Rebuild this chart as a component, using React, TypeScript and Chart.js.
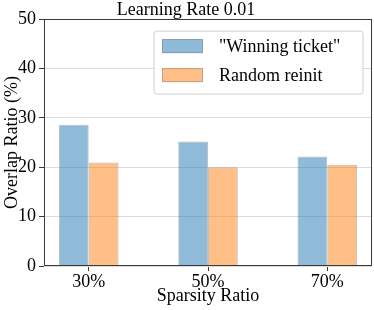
import React, { useEffect, useRef } from "react";
import { Chart, registerables } from "chart.js";

Chart.register(...registerables);

const categories = ["30%", "50%", "70%"];
const winningTicket = [28.6, 25.2, 22.2];
const randomReinit = [20.95, 20.0, 20.5];
const seriesLabels = ['"Winning ticket"', "Random reinit"];
const yTicks = [0, 10, 20, 30, 40, 50];

const FONT = "'Liberation Serif', 'Times New Roman', serif";

const spinesPlugin = {
  id: "spines",
  afterDatasetsDraw(chart: any) {
    const { ctx, chartArea } = chart;
    ctx.save();
    ctx.strokeStyle = "#3a3a3a";
    ctx.lineWidth = 1;
    ctx.strokeRect(
      Math.round(chartArea.left) + 0.5,
      Math.round(chartArea.top) + 0.5,
      Math.round(chartArea.right - chartArea.left) - 1,
      Math.round(chartArea.bottom - chartArea.top) - 1
    );
    ctx.restore();
  },
};

const legendPlugin = {
  id: "innerLegend",
  afterDraw(chart: any) {
    const { ctx, chartArea } = chart;
    const boxW = 209;
    const boxH = 63;
    const x = chartArea.right - 9 - boxW;
    const y = chartArea.top + 12;
    ctx.save();
    ctx.beginPath();
    const r = 3;
    ctx.moveTo(x + r, y);
    ctx.lineTo(x + boxW - r, y);
    ctx.quadraticCurveTo(x + boxW, y, x + boxW, y + r);
    ctx.lineTo(x + boxW, y + boxH - r);
    ctx.quadraticCurveTo(x + boxW, y + boxH, x + boxW - r, y + boxH);
    ctx.lineTo(x + r, y + boxH);
    ctx.quadraticCurveTo(x, y + boxH, x, y + boxH - r);
    ctx.lineTo(x, y + r);
    ctx.quadraticCurveTo(x, y, x + r, y);
    ctx.closePath();
    ctx.fillStyle = "rgba(255,255,255,0.9)";
    ctx.fill();
    ctx.strokeStyle = "#d0d0d0";
    ctx.lineWidth = 1;
    ctx.stroke();
    chart.data.datasets.forEach((ds: any, i: number) => {
      const py = y + 8 + i * 29;
      ctx.fillStyle = ds.backgroundColor;
      ctx.fillRect(x + 8, py, 41, 14);
      ctx.strokeStyle = ds.borderColor;
      ctx.strokeRect(x + 8.5, py + 0.5, 40, 13);
      ctx.fillStyle = "#000";
      ctx.font = `18px ${FONT}`;
      ctx.textBaseline = "middle";
      ctx.textAlign = "left";
      ctx.fillText(ds.label, x + 65, py + 8);
    });
    ctx.restore();
  },
};

export default function App() {
  const ref = useRef<HTMLCanvasElement>(null);
  useEffect(() => {
    document.body.style.margin = "0";
    if (!ref.current) return;
    Chart.defaults.font.family = FONT;
    Chart.defaults.color = "#000";
    const chart = new Chart(ref.current, {
      type: "bar",
      data: {
        datasets: [
          {
            label: seriesLabels[0],
            data: winningTicket.map((v, i) => ({ x: i, y: v })),
            backgroundColor: "rgba(31,119,180,0.5)",
            borderColor: "rgba(120,120,120,0.45)",
            borderWidth: 1,
            categoryPercentage: 0.5,
            barPercentage: 1.0,
          },
          {
            label: seriesLabels[1],
            data: randomReinit.map((v, i) => ({ x: i, y: v })),
            backgroundColor: "rgba(255,127,14,0.5)",
            borderColor: "rgba(120,120,120,0.45)",
            borderWidth: 1,
            categoryPercentage: 0.5,
            barPercentage: 1.0,
          },
        ],
      } as any,
      options: {
        animation: false,
        responsive: false,
        layout: { padding: { left: 0, right: 2, top: 0, bottom: 0 } },
        plugins: {
          legend: { display: false },
          tooltip: { enabled: false },
          title: {
            display: true,
            text: "Learning Rate 0.01",
            font: { size: 18, family: FONT, weight: "normal", lineHeight: 0.95 },
            color: "#000",
            padding: { top: 2, bottom: 0 },
          },
        },
        scales: {
          x: {
            type: "linear",
            offset: false,
            min: -0.375,
            max: 2.375,
            afterBuildTicks: (s: any) => {
              s.ticks = categories.map((_, i) => ({ value: i }));
            },
            afterFit: (s: any) => {
              s.height = 44;
            },
            ticks: {
              callback: (v: any) => categories[v] ?? "",
              font: { size: 18, family: FONT },
              color: "#000",
              padding: 0,
              maxRotation: 0,
            },
            grid: {
              offset: false,
              drawOnChartArea: false,
              drawTicks: true,
              tickLength: 5,
              tickColor: "#3a3a3a",
            },
            border: { display: false },
            title: {
              display: true,
              text: "Sparsity Ratio",
              font: { size: 18, family: FONT },
              color: "#000",
              padding: { top: 0, bottom: 3 },
            },
          },
          y: {
            min: 0,
            max: 50,
            afterBuildTicks: (s: any) => {
              s.ticks = yTicks.map((v) => ({ value: v }));
            },
            afterFit: (s: any) => {
              s.width = 44;
            },
            ticks: {
              font: { size: 18, family: FONT },
              color: "#000",
              padding: 3,
            },
            grid: {
              color: "#dcdcdc",
              drawTicks: true,
              tickLength: 5,
              tickColor: "#3a3a3a",
            },
            border: { display: false },
            title: {
              display: true,
              text: "Overlap Ratio (%)",
              font: { size: 18, family: FONT },
              color: "#000",
              padding: { top: 1, bottom: 0 },
            },
          },
        },
      } as any,
      plugins: [spinesPlugin, legendPlugin],
    });
    return () => chart.destroy();
  }, []);
  return (
    <div style={{ width: 374, height: 310 }}>
      <canvas ref={ref} width={374} height={310} />
    </div>
  );
}
